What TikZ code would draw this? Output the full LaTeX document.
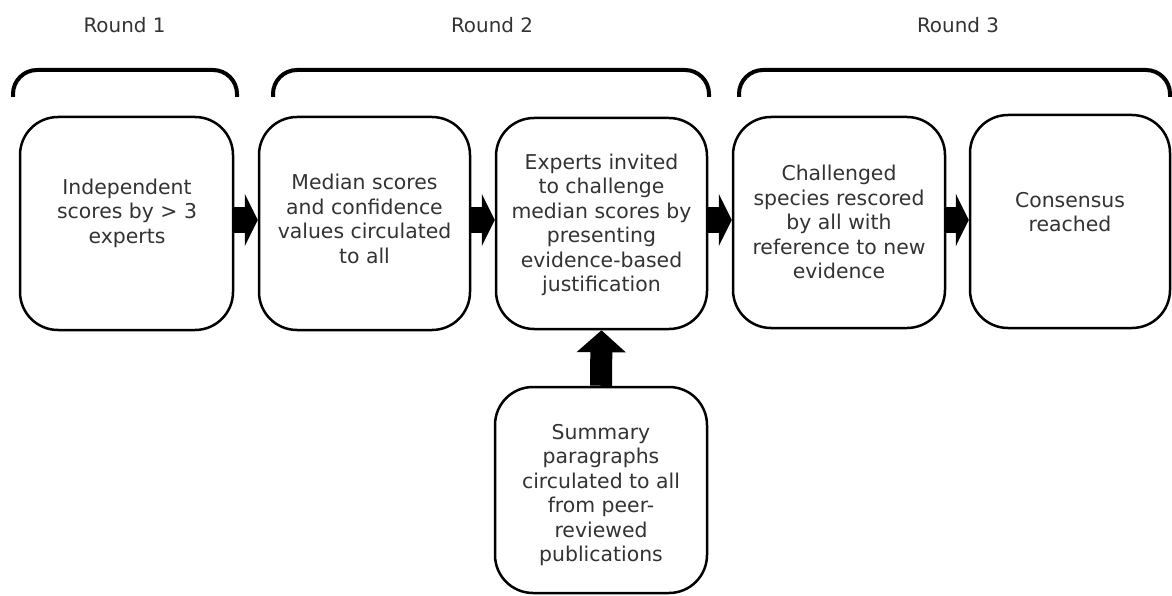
\documentclass[tikz,border=0pt]{standalone}
\usepackage{fontspec}
\setmainfont{DejaVu Sans}
\usetikzlibrary{arrows.meta}
\definecolor{txtgray}{HTML}{333333}
\begin{document}
\begin{tikzpicture}[x=1pt,y=-1pt,
  stagebox/.style={draw=black, line width=2.5pt, rounded corners=38pt, inner sep=0pt, fill=white},
  stagetext/.style={align=center, text=txtgray, inner sep=0pt, font=\fontsize{20.4}{24.5}\selectfont},
  roundlabel/.style={text=txtgray, inner sep=0pt, font=\fontsize{19.9}{24}\selectfont},
  bracket/.style={line width=4pt, rounded corners=24pt},
  flow/.style={line width=25pt, -{Triangle[width=52pt,length=13pt]}},
  upflow/.style={line width=22pt, -{Triangle[width=48pt,length=22pt]}}
]
\useasboundingbox (0,0) rectangle (1172,596);

% round headings
\node[roundlabel] (r1) at (124.5,25) {Round 1};
\node[roundlabel] (r2) at (492,25) {Round 2};
\node[roundlabel] (r3) at (958,25) {Round 3};

% brackets grouping the stages of each round
\draw[bracket] (13,97) -- (13,70) -- (237,70) -- (237,97);
\draw[bracket] (273,97) -- (273,70) -- (709,70) -- (709,97);
\draw[bracket] (739,97) -- (739,70) -- (1170,70) -- (1170,97);

% stage boxes
\node[stagebox, minimum width=213pt, minimum height=213pt] (b1) at (126.5,223.5) {};
\node[stagebox, minimum width=211pt, minimum height=213pt] (b2) at (364.5,223.5) {};
\node[stagebox, minimum width=211pt, minimum height=211pt] (b3) at (601.5,223.5) {};
\node[stagebox, minimum width=212pt, minimum height=211pt] (b4) at (839,222.5) {};
\node[stagebox, minimum width=200pt, minimum height=213pt] (b5) at (1070,221.5) {};
\node[stagebox, minimum width=212pt, minimum height=206pt] (b6) at (601,490) {};

% stage texts
\node[stagetext] (t1) at (127,213) {Independent\\scores by > 3\\experts};
\node[stagetext] (t2) at (364.5,219) {Median scores\\and confidence\\values circulated\\to all};
\node[stagetext] (t3) at (601.5,225) {Experts invited\\to challenge\\median scores by\\presenting\\evidence-based\\justification};
\node[stagetext] (t4) at (839,222) {Challenged\\species rescored\\by all with\\reference to new\\evidence};
\node[stagetext] (t5) at (1070,212) {Consensus\\reached};
\node[stagetext] (t6) at (601,495) {Summary\\paragraphs\\circulated to all\\from peer-\\reviewed\\publications};

% block arrows between stages
\draw[flow] ([yshift=3.5pt]b1.east) -- ([yshift=3.5pt]b2.west);
\draw[flow] ([yshift=3.5pt]b2.east) -- ([yshift=3.5pt]b3.west);
\draw[flow] ([yshift=3.5pt]b3.east) -- ([yshift=2.5pt]b4.west);
\draw[flow] ([yshift=2.5pt]b4.east) -- ([yshift=1.5pt]b5.west);
\draw[upflow] (b6.north) -- (b3.south);
\end{tikzpicture}
\end{document}
